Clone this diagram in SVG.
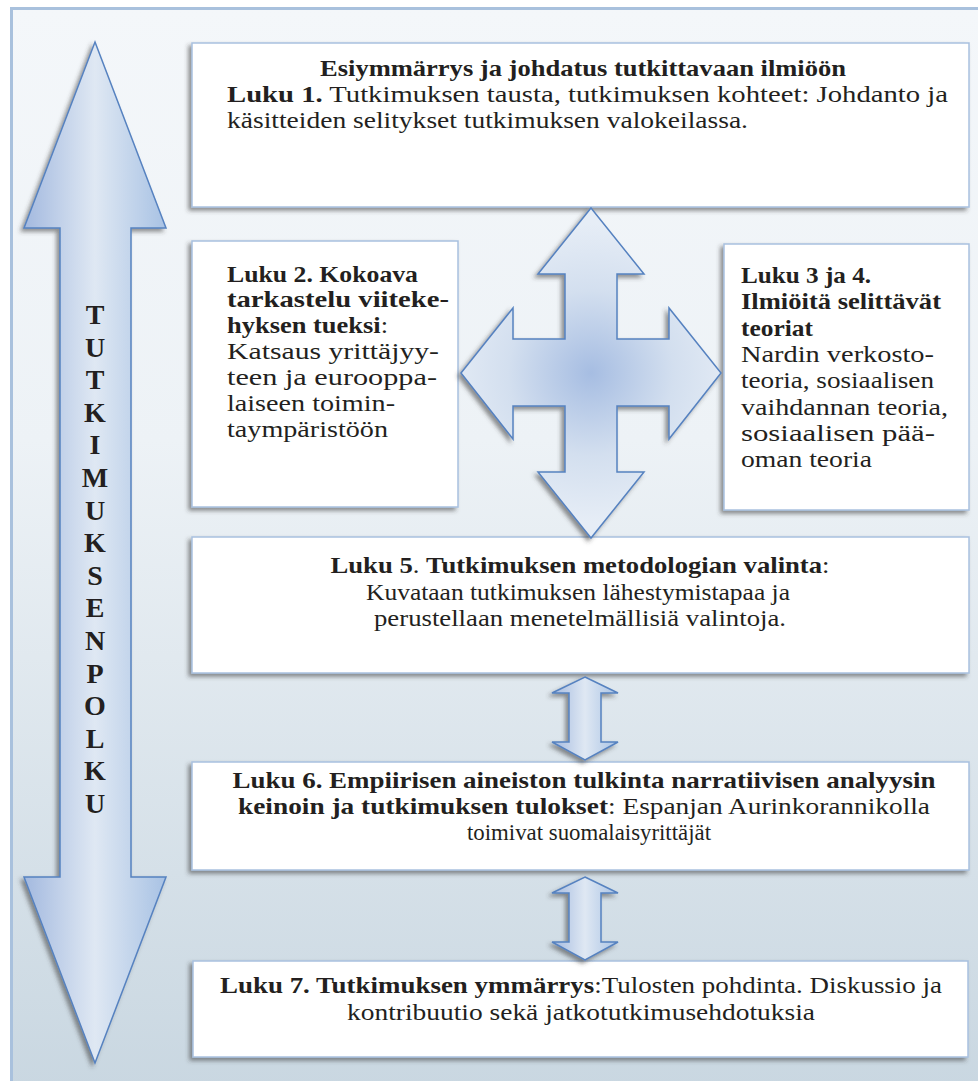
<svg xmlns="http://www.w3.org/2000/svg" width="978" height="1081" viewBox="0 0 978 1081">
  <defs>
    <linearGradient id="bg" x1="0" y1="0" x2="0" y2="1">
      <stop offset="0" stop-color="#f4f7fa"/>
      <stop offset="0.4" stop-color="#edf2f6"/>
      <stop offset="1" stop-color="#c9d7e1"/>
    </linearGradient>
    <linearGradient id="shaft" x1="0" y1="0" x2="1" y2="0">
      <stop offset="0" stop-color="#a3b9df"/>
      <stop offset="0.5" stop-color="#dfe8f3"/>
      <stop offset="1" stop-color="#a8c2e4"/>
    </linearGradient>
    <radialGradient id="cross" cx="591" cy="373" r="150" gradientUnits="userSpaceOnUse">
      <stop offset="0" stop-color="#a6bde2"/>
      <stop offset="0.55" stop-color="#d3dfef"/>
      <stop offset="1" stop-color="#e6edf6"/>
    </radialGradient>
    <filter id="shadow" x="-10%" y="-10%" width="120%" height="120%">
      <feGaussianBlur in="SourceAlpha" stdDeviation="2"/>
      <feOffset dx="-3" dy="3" result="b"/>
      <feFlood flood-color="#3a3a3a" flood-opacity="0.55"/>
      <feComposite in2="b" operator="in"/>
      <feMerge>
        <feMergeNode/>
        <feMergeNode in="SourceGraphic"/>
      </feMerge>
    </filter>
  </defs>
  <style>
    .box { fill: #ffffff; stroke: #a9c1df; stroke-width: 1.5; filter: url(#shadow); }
    .arrow { stroke: #5682c0; stroke-width: 1.5; stroke-linejoin: miter; filter: url(#shadow); }
    text { font-family: "Liberation Serif", "Times New Roman", serif; font-size: 23px; fill: #231f20; }
    .b { font-weight: bold; }
    .mid { text-anchor: middle; }
    .vert { font-size: 28px; font-weight: bold; text-anchor: middle; }
  </style>

  <!-- page background with frame -->
  <rect x="11.5" y="8.5" width="975" height="1080" fill="url(#bg)" stroke="#a9c1dd" stroke-width="3"/>

  <!-- research path arrow along the left side -->
  <g id="tutkimuksen-polku">
    <path class="arrow" fill="url(#shaft)" d="M95,42 L166,228 L131,228 L131,877 L166,877 L95,1063 L24,877 L60,877 L60,228 L24,228 Z"/>
    <text class="vert" x="95" y="324">T</text>
    <text class="vert" x="95" y="357">U</text>
    <text class="vert" x="95" y="389">T</text>
    <text class="vert" x="95" y="422">K</text>
    <text class="vert" x="95" y="454">I</text>
    <text class="vert" x="95" y="487">M</text>
    <text class="vert" x="95" y="520">U</text>
    <text class="vert" x="95" y="552">K</text>
    <text class="vert" x="95" y="585">S</text>
    <text class="vert" x="95" y="617">E</text>
    <text class="vert" x="95" y="650">N</text>
    <text class="vert" x="95" y="683">P</text>
    <text class="vert" x="95" y="715">O</text>
    <text class="vert" x="95" y="748">L</text>
    <text class="vert" x="95" y="780">K</text>
    <text class="vert" x="95" y="813">U</text>
  </g>

  <!-- Chapter 1 -->
  <g id="luku1">
    <rect class="box" x="192" y="43" width="777" height="164"/>
    <text class="b mid" x="583" y="76" textLength="526" lengthAdjust="spacingAndGlyphs">Esiymmärrys ja johdatus tutkittavaan ilmiöön</text>
    <text x="227" y="102" textLength="721" lengthAdjust="spacingAndGlyphs"><tspan class="b">Luku 1.</tspan> Tutkimuksen tausta, tutkimuksen kohteet: Johdanto ja</text>
    <text x="227" y="128" textLength="521" lengthAdjust="spacingAndGlyphs">käsitteiden selitykset tutkimuksen valokeilassa.</text>
  </g>

  <!-- Chapter 2 -->
  <g id="luku2">
    <rect class="box" x="192" y="241" width="266" height="266"/>
    <text class="b" x="227" y="282" textLength="191" lengthAdjust="spacingAndGlyphs">Luku 2. Kokoava</text>
    <text class="b" x="227" y="307" textLength="222" lengthAdjust="spacingAndGlyphs">tarkastelu viiteke-</text>
    <text x="227" y="333" textLength="161" lengthAdjust="spacingAndGlyphs"><tspan class="b">hyksen tueksi</tspan>:</text>
    <text x="227" y="359" textLength="212" lengthAdjust="spacingAndGlyphs">Katsaus yrittäjyy-</text>
    <text x="227" y="385" textLength="210" lengthAdjust="spacingAndGlyphs">teen ja eurooppa-</text>
    <text x="227" y="411" textLength="168" lengthAdjust="spacingAndGlyphs">laiseen toimin-</text>
    <text x="227" y="437" textLength="161" lengthAdjust="spacingAndGlyphs">taympäristöön</text>
  </g>

  <!-- Chapters 3 and 4 -->
  <g id="luku3-4">
    <rect class="box" x="724" y="244" width="245" height="266"/>
    <text class="b" x="741" y="283" textLength="130" lengthAdjust="spacingAndGlyphs">Luku 3 ja 4.</text>
    <text class="b" x="741" y="309" textLength="200" lengthAdjust="spacingAndGlyphs">Ilmiöitä selittävät</text>
    <text class="b" x="741" y="336" textLength="72" lengthAdjust="spacingAndGlyphs">teoriat</text>
    <text x="741" y="362" textLength="193" lengthAdjust="spacingAndGlyphs">Nardin verkosto-</text>
    <text x="741" y="388" textLength="193" lengthAdjust="spacingAndGlyphs">teoria, sosiaalisen</text>
    <text x="741" y="415" textLength="207" lengthAdjust="spacingAndGlyphs">vaihdannan teoria,</text>
    <text x="741" y="441" textLength="194" lengthAdjust="spacingAndGlyphs">sosiaalisen pää-</text>
    <text x="741" y="467" textLength="131" lengthAdjust="spacingAndGlyphs">oman teoria</text>
  </g>

  <!-- Chapter 5 -->
  <g id="luku5">
    <rect class="box" x="192" y="537" width="777" height="136"/>
    <text class="mid" x="580" y="573" textLength="499" lengthAdjust="spacingAndGlyphs"><tspan class="b">Luku 5</tspan>. <tspan class="b">Tutkimuksen metodologian valinta</tspan>:</text>
    <text class="mid" x="578" y="600" textLength="424" lengthAdjust="spacingAndGlyphs">Kuvataan tutkimuksen lähestymistapaa ja</text>
    <text class="mid" x="580" y="626" textLength="412" lengthAdjust="spacingAndGlyphs">perustellaan menetelmällisiä valintoja.</text>
  </g>

  <!-- Chapter 6 -->
  <g id="luku6">
    <rect class="box" x="192" y="762" width="777" height="108"/>
    <text class="b mid" x="584" y="788" textLength="703" lengthAdjust="spacingAndGlyphs">Luku 6. Empiirisen aineiston tulkinta narratiivisen analyysin</text>
    <text class="mid" x="584" y="814" textLength="692" lengthAdjust="spacingAndGlyphs"><tspan class="b">keinoin ja tutkimuksen tulokset</tspan>: Espanjan Aurinkorannikolla</text>
    <text class="mid" x="589" y="840" textLength="244" lengthAdjust="spacingAndGlyphs">toimivat suomalaisyrittäjät</text>
  </g>

  <!-- Chapter 7 -->
  <g id="luku7">
    <rect class="box" x="193" y="961" width="775" height="96"/>
    <text class="mid" x="581" y="993" textLength="722" lengthAdjust="spacingAndGlyphs"><tspan class="b">Luku 7. Tutkimuksen ymmärrys</tspan>:Tulosten pohdinta. Diskussio ja</text>
    <text class="mid" x="581" y="1020" textLength="468" lengthAdjust="spacingAndGlyphs">kontribuutio sekä jatkotutkimusehdotuksia</text>
  </g>

  <!-- links between chapters -->
  <g id="connectors">
    <path class="arrow" fill="url(#cross)" d="M591,208 L644,274 L617,274 L617,339 L669,339 L669,308 L721,373 L669,439 L669,406 L617,406 L617,472 L644,472 L591,538 L538,472 L565,472 L565,406 L513,406 L513,439 L461,373 L513,308 L513,339 L565,339 L565,274 L538,274 Z"/>
    <path class="arrow" fill="url(#shaft)" d="M585,677 L618,693 L601,693 L601,742 L618,742 L585,760 L552,742 L569,742 L569,693 L552,693 Z"/>
    <path class="arrow" fill="url(#shaft)" d="M585,877 L618,893 L601,893 L601,942 L618,942 L585,960 L552,942 L569,942 L569,893 L552,893 Z"/>
  </g>
</svg>
